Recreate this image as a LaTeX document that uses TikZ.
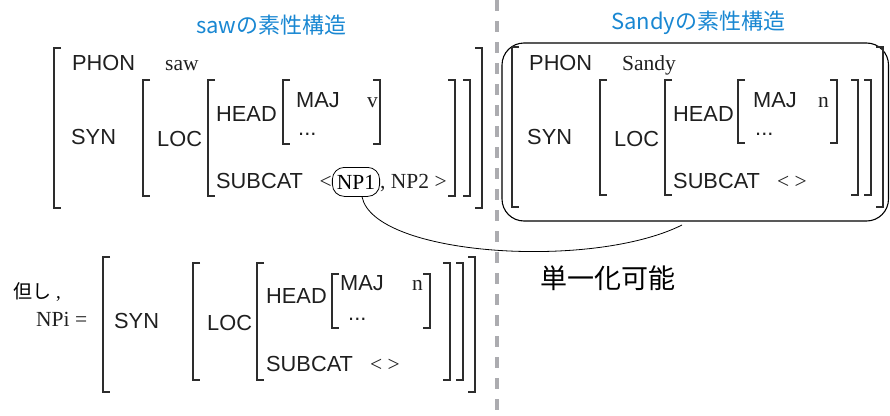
\documentclass[tikz,border=0pt]{standalone}
\usepackage{fontspec}
\setmainfont{Liberation Serif}
\newfontfamily\sa{Liberation Sans}
\newfontfamily\jp{Noto Sans CJK JP}
\definecolor{titleblue}{RGB}{25,135,210}
\definecolor{brkgray}{RGB}{45,45,45}
\newcommand\BrL[3]{\draw[brk] (#1+7,#2) -- (#1,#2) -- (#1,#3) -- (#1+7,#3);}
\newcommand\BrR[3]{\draw[brk] (#1-7,#2) -- (#1,#2) -- (#1,#3) -- (#1-7,#3);}
\tikzset{
  lab/.style={font=\sa\fontsize{21.8}{22}\selectfont, inner sep=0pt, anchor=base west, text=black!88},
  val/.style={font=\fontsize{21.5}{22}\selectfont, inner sep=0pt, anchor=base west, text=black!88},
  brk/.style={line width=1.7pt, draw=brkgray},
  ttl/.style={font=\jp\fontsize{22}{22}\selectfont, text=titleblue, inner sep=0pt, anchor=west},
}
\begin{document}
\begin{tikzpicture}[x=1pt,y=-1pt]
\useasboundingbox (0,0) rectangle (890,415);
% dashed separator
\draw[line width=4pt, draw={rgb,255:red,172;green,172;blue,176}, dash pattern=on 11pt off 10pt] (497,0) -- (497,415);
% titles
\node[ttl] (t1) at (196,25) {saw\jp の素性構造};
\node[ttl] (t2) at (611,23) {Sandy\jp の素性構造};
% ---------- saw structure ----------
\BrL{54}{48}{208}\BrR{482}{48}{208}
\BrL{143}{80}{196}\BrR{470}{80}{196}
\BrL{208}{80}{196}\BrR{455}{80}{196}
\BrL{283}{80}{144}\BrR{380}{80}{144}
\node[lab] (a-phon) at (72,70.5) {PHON};
\node[val] (a-saw) at (165,70.5) {saw};
\node[lab] (a-syn) at (71,144.5) {SYN};
\node[lab] (a-loc) at (157,146) {LOC};
\node[lab] (a-head) at (216,121.7) {HEAD};
\node[lab] (a-maj) at (296,107.3) {MAJ};
\node[val] (a-v) at (367,107) {v};
\node[lab] (a-dots) at (298,135) {...};
\node[lab] (a-sub) at (216,188.3) {SUBCAT};
\node[draw, rounded corners=12pt, minimum height=29pt, inner xsep=4.5pt, inner ysep=0pt,
      font=\fontsize{21.5}{22}\selectfont, anchor=base, line width=0.8pt] (NP1) at (356,189) {NP1};
\node[val, anchor=base east] (a-lt) at (NP1.west |- 0,188.3) {<};
\node[val] (a-np2) at (NP1.east |- 0,188.3) {, NP2 >};
% ---------- Sandy structure ----------
\draw[line width=1.1pt, rounded corners=22pt] (502,43) rectangle (888.5,221);
\BrL{512}{47}{207}\BrR{883}{47}{207}
\BrL{600}{80}{195}\BrR{871}{80}{195}
\BrL{665}{80}{195}\BrR{858}{80}{195}
\BrL{738}{80}{143}\BrR{837}{80}{143}
\node[lab] (b-phon) at (529,70.5) {PHON};
\node[val] (b-sandy) at (622,70.5) {Sandy};
\node[lab] (b-syn) at (527,144.3) {SYN};
\node[lab] (b-loc) at (614,146.5) {LOC};
\node[lab] (b-head) at (673,121.7) {HEAD};
\node[lab] (b-maj) at (753,107.3) {MAJ};
\node[val] (b-n) at (818,107) {n};
\node[lab] (b-dots) at (755,135) {...};
\node[lab] (b-sub) at (673,188.3) {SUBCAT};
\node[val] (b-empty) at (777,188) {< >};
% ---------- connector ----------
\coordinate (uend) at (682,225);
\draw[line width=0.8pt] ([xshift=6pt]NP1.south) .. controls (374,256) and (592,270) .. (uend);
\node[font=\jp\fontsize{27}{27}\selectfont, inner sep=0pt, anchor=west] (unif) at (540,278) {単一化可能};
% ---------- NPi ----------
\node[font=\jp\fontsize{19}{19}\selectfont, inner sep=0pt, anchor=west] (tadashi) at (13,292) {但し\hspace{5pt}\rmfamily ,};
\node[val] (c-npi) at (36,326.7) {NPi =};
\BrL{103}{257}{392}\BrR{475}{257}{392}
\BrL{193}{263}{380}\BrR{463}{263}{380}
\BrL{257}{263}{380}\BrR{450}{263}{380}
\BrL{332}{274}{328}\BrR{430}{274}{328}
\node[lab] (c-syn) at (114,328.3) {SYN};
\node[lab] (c-loc) at (207,330) {LOC};
\node[lab] (c-head) at (266,303.3) {HEAD};
\node[lab] (c-maj) at (340,290) {MAJ};
\node[val] (c-n) at (412,290) {n};
\node[lab] (c-dots) at (348,320) {...};
\node[lab] (c-sub) at (266,371.7) {SUBCAT};
\node[val] (c-empty) at (370,371) {< >};
\end{tikzpicture}
\end{document}
